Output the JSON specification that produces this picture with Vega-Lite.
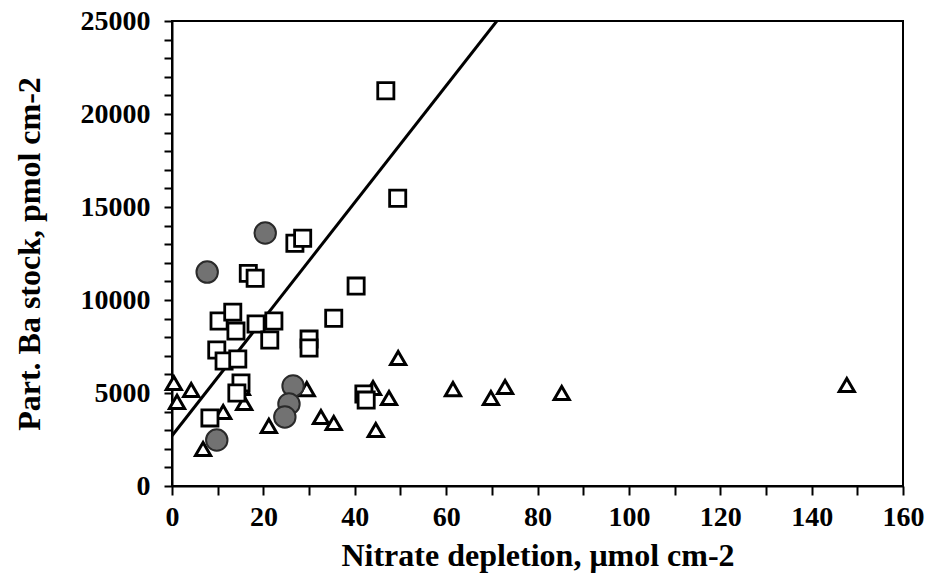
{
  "$schema": "https://vega.github.io/schema/vega-lite/v6.json",
  "autosize": "none",
  "width": 731,
  "height": 465,
  "padding": {"left": 172, "top": 21, "right": 22, "bottom": 94},
  "background": "white",
  "config": {
    "view": {"stroke": "black", "strokeWidth": 2},
    "axis": {
      "grid": false,
      "domainColor": "black",
      "domainWidth": 2,
      "tickColor": "black",
      "tickWidth": 2,
      "labelColor": "black",
      "titleColor": "black",
      "labelFont": "Liberation Serif",
      "titleFont": "Liberation Serif",
      "labelFontWeight": "bold",
      "titleFontWeight": "bold",
      "labelFontSize": 28,
      "titleFontSize": 32,
      "labelOverlap": false
    }
  },
  "datasets": {
    "points": [
      {"group": "triangle", "depletion": 0.4, "stock": 5540},
      {"group": "triangle", "depletion": 4.2, "stock": 5160},
      {"group": "triangle", "depletion": 1.1, "stock": 4520},
      {"group": "triangle", "depletion": 15.3, "stock": 5270},
      {"group": "triangle", "depletion": 15.8, "stock": 4460},
      {"group": "triangle", "depletion": 11.2, "stock": 3980},
      {"group": "triangle", "depletion": 6.8, "stock": 1990},
      {"group": "triangle", "depletion": 21.2, "stock": 3230},
      {"group": "triangle", "depletion": 29.5, "stock": 5210},
      {"group": "triangle", "depletion": 32.6, "stock": 3710},
      {"group": "triangle", "depletion": 35.4, "stock": 3390},
      {"group": "triangle", "depletion": 44.0, "stock": 5270},
      {"group": "triangle", "depletion": 47.5, "stock": 4730},
      {"group": "triangle", "depletion": 44.6, "stock": 3010},
      {"group": "triangle", "depletion": 49.5, "stock": 6880},
      {"group": "triangle", "depletion": 61.5, "stock": 5210},
      {"group": "triangle", "depletion": 69.8, "stock": 4730},
      {"group": "triangle", "depletion": 72.9, "stock": 5320},
      {"group": "triangle", "depletion": 85.3, "stock": 5000},
      {"group": "triangle", "depletion": 147.7, "stock": 5430},
      {"group": "square", "depletion": 46.8, "stock": 21250},
      {"group": "square", "depletion": 49.4, "stock": 15470},
      {"group": "square", "depletion": 26.9, "stock": 13050},
      {"group": "square", "depletion": 28.6, "stock": 13320},
      {"group": "square", "depletion": 16.7, "stock": 11430},
      {"group": "square", "depletion": 18.2, "stock": 11170},
      {"group": "square", "depletion": 40.3, "stock": 10750},
      {"group": "square", "depletion": 35.4, "stock": 9020},
      {"group": "square", "depletion": 10.3, "stock": 8870},
      {"group": "square", "depletion": 13.3, "stock": 9350},
      {"group": "square", "depletion": 14.0, "stock": 8330},
      {"group": "square", "depletion": 18.4, "stock": 8710},
      {"group": "square", "depletion": 22.3, "stock": 8870},
      {"group": "square", "depletion": 21.4, "stock": 7850},
      {"group": "square", "depletion": 30.0, "stock": 7900},
      {"group": "square", "depletion": 30.0, "stock": 7420},
      {"group": "square", "depletion": 9.8, "stock": 7310},
      {"group": "square", "depletion": 11.4, "stock": 6720},
      {"group": "square", "depletion": 14.4, "stock": 6830},
      {"group": "square", "depletion": 15.1, "stock": 5540},
      {"group": "square", "depletion": 14.2, "stock": 5000},
      {"group": "square", "depletion": 8.3, "stock": 3660},
      {"group": "square", "depletion": 42.0, "stock": 4950},
      {"group": "square", "depletion": 42.5, "stock": 4620},
      {"group": "circle", "depletion": 20.4, "stock": 13600},
      {"group": "circle", "depletion": 7.7, "stock": 11500},
      {"group": "circle", "depletion": 26.5, "stock": 5380},
      {"group": "circle", "depletion": 25.6, "stock": 4410},
      {"group": "circle", "depletion": 24.7, "stock": 3710},
      {"group": "circle", "depletion": 9.8, "stock": 2470}
    ],
    "fit": [
      {"depletion": 0, "stock": 2700},
      {"depletion": 71.1, "stock": 25000}
    ]
  },
  "encoding": {
    "x": {
      "field": "depletion",
      "type": "quantitative",
      "scale": {"domain": [0, 160], "nice": false},
      "axis": {
        "values": [0, 10, 20, 30, 40, 50, 60, 70, 80, 90, 100, 110, 120, 130, 140, 150, 160],
        "labelExpr": "datum.value % 20 === 0 ? datum.label : ''",
        "tickSize": 9,
        "labelPadding": 8,
        "labelFlush": false,
        "title": "Nitrate depletion, μmol cm-2",
        "titlePadding": 9
      }
    },
    "y": {
      "field": "stock",
      "type": "quantitative",
      "scale": {"domain": [0, 25000], "nice": false},
      "axis": {
        "tickCount": 25,
        "format": "d",
        "labelExpr": "datum.value % 5000 === 0 ? datum.label : ''",
        "tickSize": 8,
        "labelPadding": 14,
        "labelFlush": false,
        "title": "Part. Ba stock, pmol cm-2",
        "titlePadding": 34
      }
    }
  },
  "layer": [
    {
      "data": {"name": "fit"},
      "mark": {"type": "line", "color": "black", "strokeWidth": 3, "clip": true}
    },
    {
      "data": {"name": "points"},
      "transform": [{"filter": "datum.group === 'triangle'"}],
      "mark": {"type": "point", "shape": "triangle-up", "size": 230, "fill": "white", "stroke": "black", "strokeWidth": 3, "opacity": 1}
    },
    {
      "data": {"name": "points"},
      "transform": [{"filter": "datum.group === 'square'"}],
      "mark": {"type": "point", "shape": "square", "size": 260, "fill": "white", "stroke": "black", "strokeWidth": 2.8, "opacity": 1}
    },
    {
      "data": {"name": "points"},
      "transform": [{"filter": "datum.group === 'circle'"}],
      "mark": {"type": "point", "shape": "circle", "size": 460, "fill": "#727272", "stroke": "#2a2a2a", "strokeWidth": 2, "opacity": 1}
    }
  ]
}
